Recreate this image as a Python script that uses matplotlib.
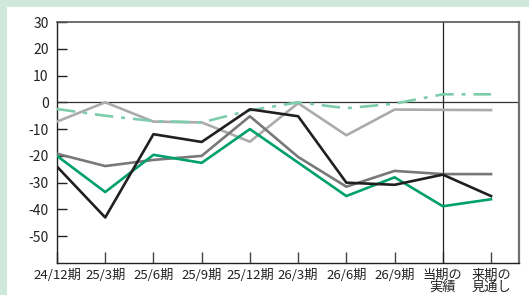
import matplotlib.pyplot as plt
import numpy as np

plt.rcParams['font.family'] = ['Noto Sans CJK JP', 'DejaVu Sans']

# period labels
periods = ['24/12期', '25/3期', '25/6期', '25/9期', '25/12期', '26/3期',
           '26/6期', '26/9期', '当期の\n実績', '来期の\n見通し']

# series values
dash_green = [-2.5, -5, -7, -7.5, -3, 0, -2.2, -0.5, 3, 3]
light_gray = [-7.2, 0, -7.2, -7.5, -14.7, -0.3, -12.3, -2.7, -2.8, -2.9]
dark_gray = [-19.2, -23.8, -21.5, -20, -5.2, -20.4, -31.5, -25.6, -26.8, -26.8]
green = [-20, -33.5, -19.6, -22.6, -10, -22.5, -35, -28, -38.8, -36.2]
black = [-24, -43, -11.9, -14.8, -2.6, -5.2, -30, -30.8, -27, -35]

yticks = [30, 20, 10, 0, -10, -20, -30, -40, -50]

W, H = 529, 295
fig = plt.figure(figsize=(W / 100, H / 100), dpi=100)
fig.patch.set_facecolor('#cfe8dc')
# white panel
fig.add_artist(plt.Rectangle((7 / W, 0), 1, 1 - 7 / H, transform=fig.transFigure,
                             facecolor='white', edgecolor='none', zorder=0))

ax = fig.add_axes([57 / W, 1 - 263 / H, (519 - 57) / W, (263 - 22) / H])
ax.set_facecolor('none')
x = np.arange(len(periods))

lw = 1.9
ax.plot(x, light_gray, color='#ababab', lw=lw, zorder=3)
ax.plot(x, dash_green, color='#7dcdac', lw=lw, zorder=3,
        dashes=(7, 3, 1.5, 3))
ax.plot(x, dark_gray, color='#78787a', lw=lw, zorder=4)
ax.plot(x, green, color='#00a06e', lw=lw, zorder=5)
ax.plot(x, black, color='#231f20', lw=lw, zorder=6)

ax.axhline(0, color='#333333', lw=0.9, zorder=2)
ax.axvline(8, color='#222222', lw=0.9, zorder=2)

ax.set_xlim(0, 9.58)
ax.set_ylim(-60, 30)
ax.set_yticks(yticks)
ax.set_yticklabels([str(v) for v in yticks])
ax.set_xticks(x)
ax.set_xticklabels(periods, linespacing=0.88)

ax.tick_params(axis='y', direction='in', length=7, width=1, color='#222222',
               labelsize=10, pad=6, labelcolor='#222222')
ax.tick_params(axis='x', direction='in', length=8, width=1, color='#444444',
               labelsize=9.5, pad=4, labelcolor='#222222')

ax.spines['left'].set_color('#222222')
ax.spines['bottom'].set_color('#222222')
ax.spines['top'].set_color('#555555')
ax.spines['right'].set_color('#707070')
ax.spines['left'].set_linewidth(1.0)
ax.spines['bottom'].set_linewidth(1.0)
ax.spines['top'].set_linewidth(1.2)
ax.spines['right'].set_linewidth(1.6)

fig.savefig('out.png', dpi=100, facecolor=fig.get_facecolor())
